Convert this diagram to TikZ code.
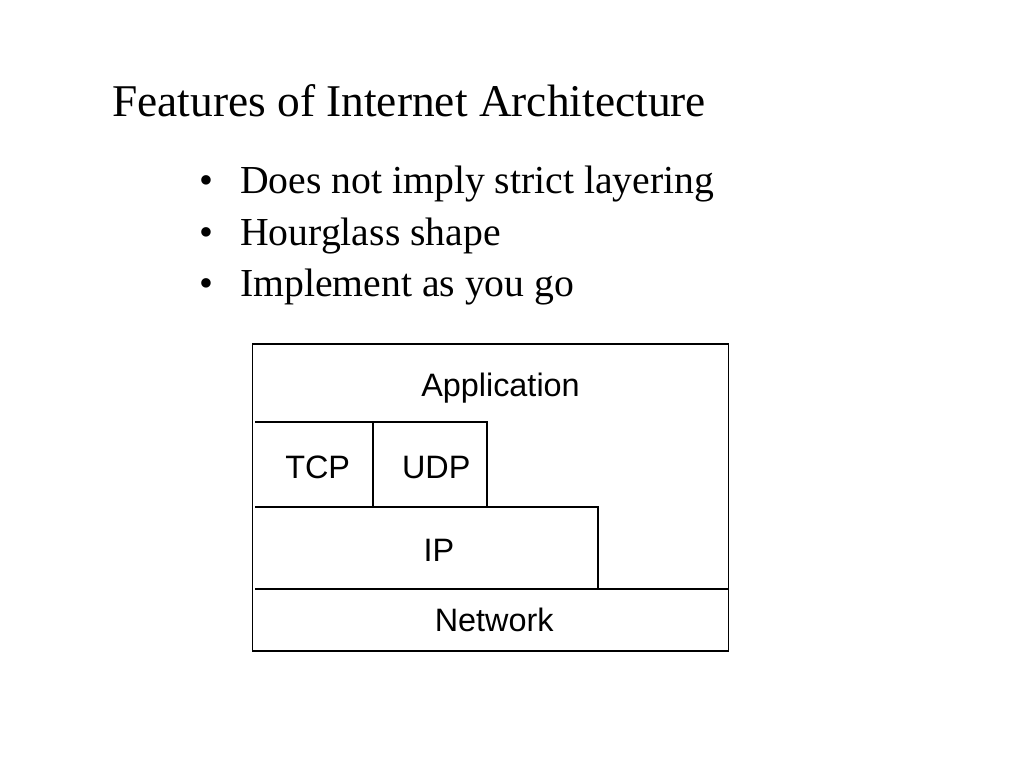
\documentclass[tikz,border=0pt]{standalone}
\usepackage{fontspec}
\setmainfont{Liberation Serif}
\newfontfamily\layerfont{Liberation Sans}
\usepackage{tikz}
\usetikzlibrary{calc}

\tikzset{
    layer/.style={inner sep=0pt, anchor=base, font=\layerfont\fontsize{32.4}{38}\selectfont},
    bullettext/.style={inner sep=0pt, anchor=base west, font=\fontsize{39.7}{47}\selectfont},
}

\begin{document}
\begin{tikzpicture}[x=1pt, y=-1pt]
            \useasboundingbox (0,0) rectangle (1024,768);
            \node[inner sep=0pt, anchor=base west, font=\fontsize{45.4}{54}\selectfont] (title) at (112,116) {Features of Internet Architecture};

            \foreach \y/\n/\t in {193.3/b1/Does not imply strict layering, 245/b2/Hourglass shape, 296.7/b3/Implement as you go} {
                \node[inner sep=0pt, anchor=base, font=\fontsize{39.7}{47}\selectfont] (dot\n) at (206.7,\y) {•};
                \node[bullettext] (\n) at (240,\y) {\t};
            }

            \draw[line width=1.6pt] (252.5,344) rectangle (728.5,651);
            \draw[line width=1.5pt] (255,422)--(487,422)--(487,507) (373,422)--(373,507) (255,507)--(598,507)--(598,589) (255,589)--(729,589);

            \foreach \x/\y/\n in {500.5/396.7/Application, 317.7/478.3/TCP, 436.3/478.3/UDP, 438.8/561/IP, 494.2/631.7/Network} {
                \node[layer] (\n) at (\x,\y) {\n};
            }
        \end{tikzpicture}
\end{document}
